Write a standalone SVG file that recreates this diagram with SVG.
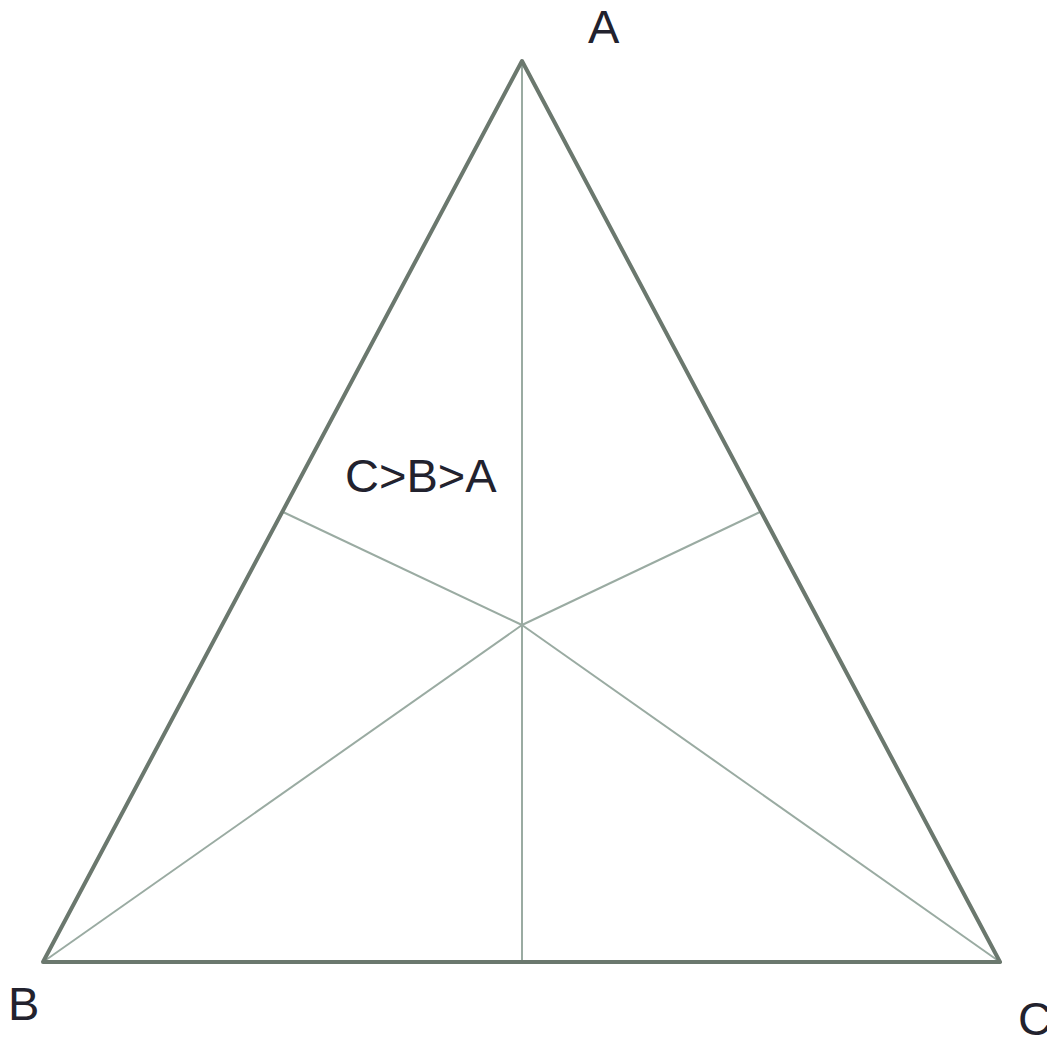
<svg xmlns="http://www.w3.org/2000/svg" width="1047" height="1037" viewBox="0 0 1047 1037">
<style>
.edge{stroke:#6b786e;stroke-width:4;fill:none;stroke-linejoin:round;stroke-linecap:round}
.div{stroke:#9aaba2;stroke-width:2;fill:none}
.lbl{font-family:"Liberation Sans",Arial,sans-serif;font-size:47px;fill:#22222e}
</style>
<rect width="1047" height="1037" fill="#ffffff"/>
<g id="connectors">
<line class="div" x1="522" y1="62" x2="522" y2="962"/>
<line class="div" x1="522" y1="625" x2="43" y2="962"/>
<line class="div" x1="522" y1="625" x2="1000" y2="962"/>
<line class="div" x1="522" y1="625" x2="283" y2="512"/>
<line class="div" x1="522" y1="625" x2="760" y2="512"/>
</g>
<g id="triangle">
<polygon class="edge" points="522,61 1000,962 43,962"/>
</g>
<g id="labelA"><text class="lbl" x="588" y="43">A</text></g>
<g id="labelB"><text class="lbl" x="8" y="1020">B</text></g>
<g id="labelC"><text class="lbl" x="1018" y="1035">C</text></g>
<g id="region"><text class="lbl" x="345" y="492">C&gt;B&gt;A</text></g>
</svg>
